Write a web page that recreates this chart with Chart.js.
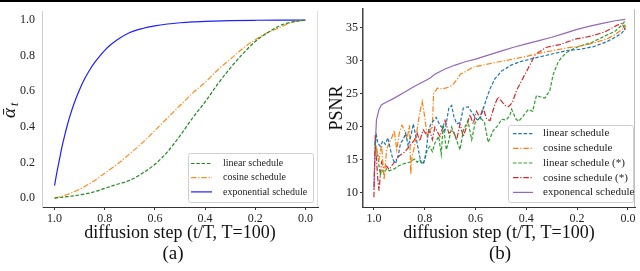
<!DOCTYPE html>
<html>
<head>
<meta charset="utf-8">
<script src="https://cdn.jsdelivr.net/npm/chart.js@4"></script>
<style>
  html, body { margin: 0; padding: 0; background: #fff; }
  body { width: 640px; height: 271px; position: relative; overflow: hidden; font-family: "Liberation Serif", serif; color: #111; }
  .box { position: absolute; top: 0; width: 320px; height: 245px; }
  #boxA { left: 0; }
  #boxB { left: 320px; }
  .cap { position: absolute; top: 242px; font-size: 19px; width: 60px; text-align: center; }
  #topLine { position: absolute; left: 0; top: 0; width: 640px; height: 2px; background: #000; }
</style>
</head>
<body>
<div class="box" id="boxA"><canvas id="chartA" width="320" height="245"></canvas></div>
<div class="box" id="boxB"><canvas id="chartB" width="320" height="245"></canvas></div>
<div class="cap" style="left:143px">(a)</div>
<div class="cap" style="left:470px">(b)</div>
<div id="topLine"></div>
<script>
// tick labels
const stepTicks = [1.0, 0.8, 0.6, 0.4, 0.2, 0.0];
const alphaTicks = [0.0, 0.2, 0.4, 0.6, 0.8, 1.0];
const psnrTicks = [10, 15, 20, 25, 30, 35];

// (a) alpha bar curves
const tSched = [1.0, 0.95, 0.9, 0.85, 0.8, 0.75, 0.7, 0.65, 0.6, 0.55, 0.5, 0.45, 0.4, 0.35, 0.3, 0.25, 0.2, 0.15, 0.1, 0.05, 0.0];
const alphaLinear = [0.0, 0.008, 0.018, 0.032, 0.055, 0.078, 0.10, 0.14, 0.19, 0.26, 0.35, 0.45, 0.54, 0.64, 0.73, 0.81, 0.88, 0.93, 0.97, 0.99, 1.0];
const alphaCosine = [0.0, 0.02, 0.05, 0.09, 0.14, 0.19, 0.25, 0.31, 0.38, 0.45, 0.52, 0.59, 0.65, 0.72, 0.78, 0.84, 0.89, 0.93, 0.96, 0.99, 1.0];
const tExp = [1.0, 0.99, 0.98, 0.97, 0.96, 0.95, 0.94, 0.92, 0.9, 0.88, 0.86, 0.84, 0.82, 0.8, 0.78, 0.75, 0.7, 0.65, 0.6, 0.55, 0.5, 0.45, 0.4, 0.3, 0.2, 0.1, 0.0];
const alphaExp = [0.07, 0.15, 0.22, 0.29, 0.35, 0.405, 0.455, 0.54, 0.61, 0.67, 0.72, 0.762, 0.798, 0.83, 0.857, 0.89, 0.93, 0.953, 0.968, 0.978, 0.985, 0.99, 0.993, 0.997, 0.999, 1.0, 1.0];

// (b) PSNR per step, [t/T, psnr]
const psnrLinear = [[0.995, 17.5], [0.99, 18.6], [0.985, 17.5], [0.975, 17.0], [0.965, 17.8], [0.955, 17.3], [0.945, 18.3], [0.935, 16.5], [0.925, 15.0], [0.915, 14.4], [0.905, 15.5], [0.895, 17.5], [0.885, 18.0], [0.875, 19.0], [0.865, 17.0], [0.855, 18.5], [0.845, 20.4], [0.835, 18.5], [0.825, 16.5], [0.815, 14.6], [0.805, 14.3], [0.795, 16.0], [0.785, 19.5], [0.775, 20.4], [0.755, 21.4], [0.74, 20.2], [0.72, 19.4], [0.705, 22.8], [0.694, 23.2], [0.685, 21.5], [0.674, 20.4], [0.66, 20.6], [0.648, 22.8], [0.63, 23.0], [0.615, 22.2], [0.596, 21.1], [0.583, 21.0], [0.57, 22.6], [0.556, 24.3], [0.543, 25.7], [0.524, 27.2], [0.497, 28.4], [0.48, 28.8], [0.46, 29.3], [0.425, 29.8], [0.373, 30.3], [0.307, 30.9], [0.24, 31.5], [0.185, 31.7], [0.135, 32.1], [0.085, 32.8], [0.05, 33.5], [0.025, 34.1], [0.01, 34.8]];
const psnrCosine = [[0.99, 16.8], [0.98, 15.0], [0.97, 17.2], [0.96, 12.0], [0.95, 16.5], [0.94, 17.5], [0.93, 18.3], [0.92, 19.4], [0.91, 16.5], [0.9, 19.0], [0.89, 20.2], [0.88, 19.5], [0.87, 18.0], [0.86, 20.2], [0.855, 12.8], [0.85, 15.5], [0.84, 17.0], [0.83, 19.5], [0.82, 22.0], [0.81, 23.8], [0.8, 21.5], [0.79, 18.5], [0.78, 19.5], [0.77, 19.9], [0.765, 25.0], [0.75, 25.8], [0.73, 25.7], [0.71, 25.9], [0.69, 26.3], [0.675, 27.0], [0.66, 27.9], [0.635, 28.4], [0.61, 29.0], [0.57, 29.3], [0.52, 29.7], [0.48, 30.0], [0.44, 30.3], [0.4, 30.6], [0.36, 31.0], [0.32, 31.3], [0.28, 31.6], [0.24, 31.9], [0.2, 32.1], [0.16, 32.4], [0.12, 32.8], [0.08, 33.3], [0.05, 33.9], [0.03, 34.5], [0.01, 35.1]];
const psnrLinearStar = [[0.995, 17.5], [0.99, 16.0], [0.985, 15.6], [0.98, 14.1], [0.975, 12.7], [0.97, 13.4], [0.96, 13.0], [0.95, 13.6], [0.94, 13.3], [0.92, 13.6], [0.9, 14.1], [0.88, 14.4], [0.86, 14.6], [0.84, 15.1], [0.83, 14.6], [0.82, 15.0], [0.81, 14.4], [0.8, 14.9], [0.79, 16.5], [0.78, 17.0], [0.77, 16.2], [0.76, 17.5], [0.745, 18.5], [0.735, 15.8], [0.727, 20.4], [0.715, 16.5], [0.707, 17.5], [0.694, 19.9], [0.68, 18.5], [0.661, 16.5], [0.648, 19.4], [0.63, 20.9], [0.615, 18.0], [0.602, 20.5], [0.583, 21.4], [0.565, 20.7], [0.55, 17.6], [0.53, 19.4], [0.511, 20.2], [0.497, 21.1], [0.48, 21.0], [0.465, 21.6], [0.458, 22.6], [0.44, 21.1], [0.43, 20.8], [0.412, 21.6], [0.392, 22.6], [0.375, 22.3], [0.36, 24.7], [0.346, 24.5], [0.327, 24.3], [0.307, 25.5], [0.294, 27.9], [0.274, 29.8], [0.26, 30.5], [0.241, 31.2], [0.222, 31.6], [0.195, 32.1], [0.143, 32.7], [0.091, 33.7], [0.051, 34.4], [0.025, 35.3], [0.015, 35.8], [0.01, 35.0]];
const psnrCosineStar = [[1.0, 9.3], [0.995, 18.7], [0.99, 15.0], [0.985, 12.2], [0.98, 10.3], [0.975, 12.5], [0.97, 14.6], [0.96, 13.7], [0.95, 14.0], [0.94, 13.5], [0.92, 14.6], [0.9, 15.6], [0.88, 16.1], [0.86, 17.0], [0.84, 18.0], [0.83, 19.0], [0.82, 17.8], [0.806, 19.5], [0.79, 18.6], [0.78, 19.4], [0.77, 18.0], [0.76, 19.9], [0.74, 18.5], [0.72, 20.9], [0.705, 19.0], [0.688, 19.4], [0.674, 18.0], [0.661, 20.4], [0.648, 18.5], [0.635, 20.0], [0.622, 21.8], [0.609, 20.4], [0.596, 22.3], [0.583, 21.4], [0.57, 22.8], [0.556, 21.1], [0.543, 20.9], [0.524, 23.3], [0.511, 24.5], [0.497, 23.8], [0.484, 23.2], [0.471, 23.0], [0.455, 23.6], [0.438, 25.5], [0.412, 27.4], [0.386, 29.3], [0.366, 30.8], [0.353, 31.2], [0.32, 32.0], [0.268, 32.4], [0.209, 33.2], [0.143, 33.7], [0.091, 34.3], [0.044, 35.3], [0.025, 35.6], [0.015, 35.0], [0.01, 34.5]];
const psnrExp = [[1.0, 10.5], [0.995, 17.0], [0.99, 21.0], [0.98, 22.6], [0.97, 23.3], [0.95, 23.7], [0.92, 24.3], [0.88, 25.2], [0.84, 26.1], [0.8, 26.9], [0.78, 27.3], [0.76, 27.9], [0.72, 28.7], [0.68, 29.3], [0.64, 29.8], [0.6, 30.2], [0.55, 30.8], [0.5, 31.4], [0.45, 32.0], [0.4, 32.5], [0.35, 33.0], [0.3, 33.5], [0.25, 34.1], [0.2, 34.7], [0.15, 35.2], [0.1, 35.6], [0.05, 36.0], [0.01, 36.2]];

const labelsA = ['linear schedule', 'cosine schedule', 'exponential schedule'];
const labelsB = ['linear schedule', 'cosine schedule', 'linear schedule (*)', 'cosine schedule (*)', 'exponencal schedule'];

const serif = '"Liberation Serif", "DejaVu Serif", serif';
const DASH = [3.5, 1.8];
const DASHDOT = [5.5, 1.8, 1.2, 1.8];

function zipXY(ts, vs) { return ts.map((t, i) => ({ x: t, y: vs[i] })); }
function pairsXY(p) { return p.map(d => ({ x: d[0], y: d[1] })); }

// spines, legend box and the alpha-bar axis label
const decor = {
    id: 'decor',
    afterDraw(chart, args, opts) {
        const ctx = chart.ctx;
        const a = chart.chartArea;
        ctx.save();
        if (opts.rightSpine) {
            ctx.strokeStyle = opts.rightSpine;
            ctx.lineWidth = 1;
            ctx.beginPath();
            ctx.moveTo(a.right - 0.5, a.top);
            ctx.lineTo(a.right - 0.5, a.bottom);
            ctx.stroke();
        }
        const lg = opts.legend;
        if (lg) {
            ctx.fillStyle = 'rgba(255,255,255,0.85)';
            ctx.strokeStyle = '#d0d0d0';
            ctx.lineWidth = 1;
            ctx.beginPath();
            ctx.roundRect(lg.x + 0.5, lg.y + 0.5, lg.w, lg.h, 2);
            ctx.fill();
            ctx.stroke();
            ctx.font = lg.fontSize + 'px ' + serif;
            ctx.textBaseline = 'middle';
            chart.data.datasets.forEach((ds, i) => {
                const y = lg.rowY + i * lg.rowH;
                ctx.strokeStyle = ds.borderColor;
                ctx.lineWidth = ds.borderWidth;
                ctx.setLineDash(ds.borderDash || []);
                ctx.beginPath();
                ctx.moveTo(lg.lineX, y);
                ctx.lineTo(lg.lineX + lg.lineW, y);
                ctx.stroke();
                ctx.setLineDash([]);
                ctx.fillStyle = '#222';
                ctx.fillText(ds.label, lg.textX, y);
            });
        }
        if (opts.alphaTitle) {
            ctx.translate(15, 118);
            ctx.rotate(-Math.PI / 2);
            ctx.fillStyle = '#111';
            ctx.textBaseline = 'alphabetic';
            ctx.font = 'italic 19px ' + serif;
            ctx.fillText('\u1FB1', 0, 0);
            ctx.font = 'italic 12px ' + serif;
            ctx.fillText('t', 12, 3);
        }
        ctx.restore();
    }
};

function xAxis(min, max) {
    return {
        type: 'linear', reverse: true, min: min, max: max,
        afterBuildTicks: s => { s.ticks = stepTicks.map(v => ({ value: v })); },
        afterFit: s => { s.height = 38; },
        ticks: { color: '#222', font: { family: serif, size: 12 }, padding: 2, maxRotation: 0, autoSkip: false,
                 callback: v => Number(v).toFixed(1) },
        grid: { drawOnChartArea: false, drawTicks: true, tickLength: 3, color: '#333' },
        border: { color: '#333', width: 1 },
        title: { display: true, text: 'diffusion step (t/T, T=100)', color: '#111',
                 font: { family: serif, size: 18 }, padding: { top: 0, bottom: 1 } }
    };
}

const chartA = new Chart(document.getElementById('chartA'), {
    type: 'line',
    data: {
        datasets: [{
            label: labelsA[0], data: zipXY(tSched, alphaLinear),
            borderColor: '#1a8a1a', borderWidth: 1.2, borderDash: DASH, cubicInterpolationMode: 'monotone'
        }, {
            label: labelsA[1], data: zipXY(tSched, alphaCosine),
            borderColor: '#ff8c1a', borderWidth: 1.2, borderDash: DASHDOT, cubicInterpolationMode: 'monotone'
        }, {
            label: labelsA[2], data: zipXY(tExp, alphaExp),
            borderColor: '#1f1fff', borderWidth: 1.2, cubicInterpolationMode: 'monotone'
        }]
    },
    options: {
        responsive: false, animation: false,
        layout: { padding: { left: 0, right: 2, top: 0, bottom: 0 } },
        elements: { point: { radius: 0 } },
        scales: {
            x: xAxis(-0.05, 1.05),
            y: {
                min: -0.05, max: 1.05,
                afterBuildTicks: s => { s.ticks = alphaTicks.map(v => ({ value: v })); },
                afterFit: s => { s.width = 42; },
                ticks: { color: '#222', font: { family: serif, size: 12 }, padding: 4,
                         callback: v => Number(v).toFixed(1) },
                grid: { drawOnChartArea: false, drawTicks: true, tickLength: 3, color: '#fff' },
                border: { color: '#ccc', width: 1 }
            }
        },
        plugins: {
            legend: { display: false },
            tooltip: { enabled: false },
            decor: {
                rightSpine: '#ddd',
                alphaTitle: true,
                legend: { x: 188, y: 153, w: 125, h: 49, rowY: 163.5, rowH: 14.2, lineX: 191, lineW: 21, textX: 223, fontSize: 10 }
            }
        }
    },
    plugins: [decor]
});

const chartB = new Chart(document.getElementById('chartB'), {
    type: 'line',
    data: {
        datasets: [{
            label: labelsB[0], data: pairsXY(psnrLinear),
            borderColor: '#1f77b4', borderWidth: 1.2, borderDash: DASH
        }, {
            label: labelsB[1], data: pairsXY(psnrCosine),
            borderColor: '#ff7f0e', borderWidth: 1.2, borderDash: DASHDOT
        }, {
            label: labelsB[2], data: pairsXY(psnrLinearStar),
            borderColor: '#2ca02c', borderWidth: 1.2, borderDash: DASH
        }, {
            label: labelsB[3], data: pairsXY(psnrCosineStar),
            borderColor: '#d62728', borderWidth: 1.2, borderDash: DASHDOT
        }, {
            label: labelsB[4], data: pairsXY(psnrExp),
            borderColor: '#9467bd', borderWidth: 1.2
        }]
    },
    options: {
        responsive: false, animation: false,
        layout: { padding: { left: 0, right: 5, top: 0, bottom: 0 } },
        elements: { point: { radius: 0 }, line: { tension: 0 } },
        scales: {
            x: xAxis(-0.028, 1.043),
            y: {
                min: 7.83, max: 37.75,
                afterBuildTicks: s => { s.ticks = psnrTicks.map(v => ({ value: v })); },
                afterFit: s => { s.width = 43; },
                ticks: { color: '#222', font: { family: serif, size: 12 }, padding: 2 },
                grid: { drawOnChartArea: false, drawTicks: true, tickLength: 3, color: '#333' },
                border: { color: '#444', width: 1.5 },
                title: { display: true, text: 'PSNR', color: '#111',
                         font: { family: serif, size: 18 }, padding: { top: 6, bottom: 0 } }
            }
        },
        plugins: {
            legend: { display: false },
            tooltip: { enabled: false },
            decor: {
                rightSpine: '#bbb',
                legend: { x: 188, y: 125, w: 125, h: 77, rowY: 133.6, rowH: 14.7, lineX: 193, lineW: 20, textX: 223, fontSize: 11 }
            }
        }
    },
    plugins: [decor]
});
</script>
</body>
</html>
